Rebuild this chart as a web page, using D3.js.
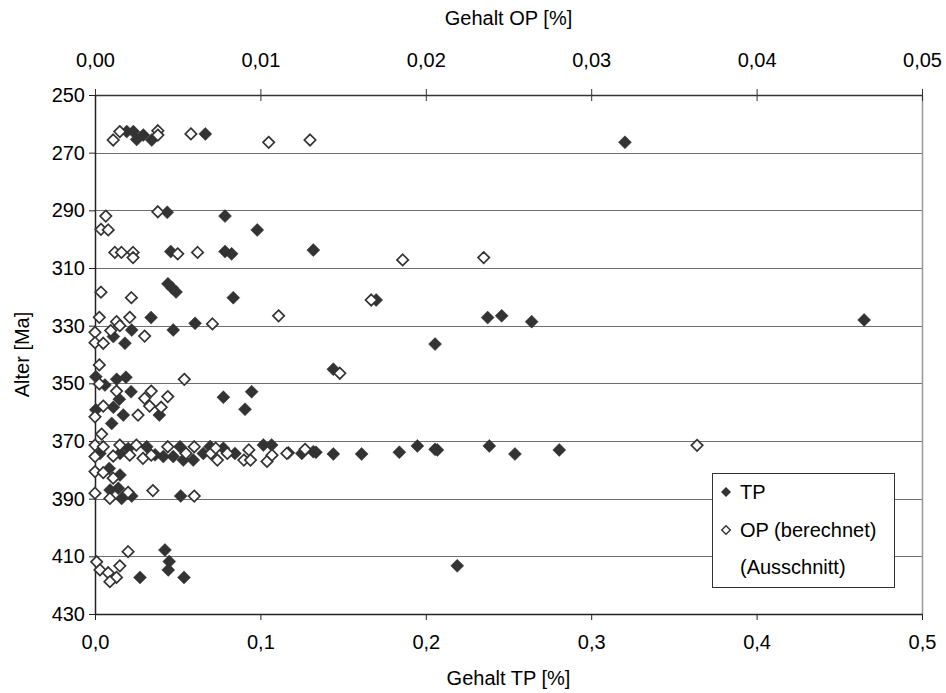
<!DOCTYPE html>
<html>
<head>
<meta charset="utf-8">
<script src="https://cdn.jsdelivr.net/npm/d3@7"></script>
<style>
  body { margin: 0; background: #fff; }
  text { font-family: "Liberation Sans", Arial, sans-serif; fill: #000; }
</style>
</head>
<body>
<div id="chart"></div>
<script>
'use strict';

// TP values [%] and ages [Ma]
var tpValues = [
  0.0192, 0.0232, 0.0252, 0.0292, 0.0343, 0.0667, 0.3204,
  0.0437, 0.0786, 0.0981,
  0.0458, 0.0786, 0.0826, 0.132,
  0.0441, 0.0466, 0.0490, 0.0836, 0.170, 0.0339, 0.0222, 0.0473, 0.0605, 0.0111, 0.0181,
  0.2374, 0.2459, 0.264, 0.2056, 0.465,
  0.1441, 0.0005, 0.006, 0.0131, 0.0187, 0.0218, 0.0147, 0.0111, 0.0005, 0.0171, 0.0389, 0.0101,
  0.0776, 0.0947, 0.0907,
  0.003, 0.0151, 0.0313, 0.0413, 0.0473, 0.0514, 0.0534, 0.0594, 0.0655, 0.0776, 0.0846,
  0.1018, 0.1068, 0.1169, 0.125, 0.132, 0.1336, 0.1441, 0.1612, 0.184, 0.1949, 0.2056,
  0.207, 0.2384, 0.2539, 0.2807, 0.0201, 0.0363, 0.0696,
  0.0086, 0.0151, 0.0091, 0.0141, 0.0161, 0.0222, 0.0518,
  0.0423, 0.0449, 0.0443, 0.0272, 0.0538, 0.219
];
var tpAges = [
  262.7, 262.7, 265.4, 263.9, 265.6, 263.5, 266.4,
  290.7, 292.0, 296.8,
  304.3, 304.3, 305.1, 303.8,
  315.5, 316.9, 318.3, 320.3, 321.1, 327.2, 331.5, 331.5, 329.2, 333.8, 336.1,
  327.2, 326.6, 328.6, 336.4, 328.0,
  345.1, 347.7, 350.6, 348.6, 347.9, 352.9, 355.5, 358.3, 359.2, 361.0, 361.0, 363.9,
  354.8, 352.9, 359.0,
  374.3, 374.3, 372.0, 375.4, 375.4, 372.0, 376.6, 376.6, 374.3, 372.5, 374.3,
  371.4, 371.4, 374.1, 374.3, 373.7, 373.9, 374.5, 374.5, 373.9, 371.7, 372.9,
  373.1, 371.7, 374.5, 373.1, 372.6, 374.8, 371.9,
  379.5, 381.8, 387.0, 386.4, 389.9, 389.1, 389.1,
  407.8, 411.8, 414.7, 417.3, 417.3, 413.3
];

// OP values [%] (computed, upper axis) and ages [Ma]
var opValues = [
  0.0011, 0.0015, 0.0038, 0.0038, 0.0058, 0.0105, 0.0130,
  0.00065, 0.00036, 0.0008, 0.0038,
  0.0012, 0.0016, 0.0023, 0.0023, 0.005, 0.0062, 0.0186, 0.0235,
  0.00036, 0.0022, 0.0167, 0.0111, 0.00026, 0.0013, 0.0021, 0.0015, 0.0071, 0.0, 0.00095,
  0.003, 0.0, 0.0005,
  0.0148, 0.00026, 0.00026, 0.0054, 0.0013, 0.0034, 0.003, 0.0044, 0.0005, 0.0033, 0.004,
  0.0, 0.0026, 0.0004,
  0.0, 0.0, 0.0005, 0.0011, 0.0015, 0.0021, 0.0025, 0.0029, 0.0034, 0.0044, 0.0055, 0.006,
  0.007, 0.0073, 0.0074, 0.008, 0.009, 0.0093, 0.0094, 0.0104, 0.0107, 0.0116, 0.0127, 0.0364,
  0.0, 0.0005, 0.0011, 0.0, 0.0009, 0.002, 0.0035, 0.006,
  0.002, 0.0001, 0.0003, 0.0008, 0.0015, 0.0013, 0.0009
];
var opAges = [
  265.6, 262.7, 262.4, 263.9, 263.5, 266.4, 265.6,
  292.0, 296.6, 296.8, 290.5,
  304.6, 304.6, 304.6, 306.4, 305.1, 304.6, 307.2, 306.4,
  318.4, 320.3, 321.1, 326.6, 327.1, 328.6, 327.1, 330.0, 329.4, 332.3, 331.7,
  333.6, 335.9, 336.1,
  346.5, 343.6, 350.2, 348.6, 352.7, 352.7, 355.2, 354.6, 357.9, 357.9, 358.3,
  361.6, 361.0, 367.6,
  371.4, 375.4, 372.0, 375.2, 371.4, 374.9, 371.4, 376.0, 374.9, 372.0, 374.3, 372.0,
  374.3, 372.5, 376.6, 374.3, 376.6, 373.1, 376.6, 377.1, 374.9, 374.3, 372.9, 371.5,
  380.6, 381.0, 382.9, 388.1, 389.9, 387.8, 387.2, 389.1,
  408.4, 411.9, 414.7, 415.7, 413.3, 417.3, 418.8
];

var tpTicks = [0, 0.1, 0.2, 0.3, 0.4, 0.5];
var opTicks = [0, 0.01, 0.02, 0.03, 0.04, 0.05];
var ageTicks = [250, 270, 290, 310, 330, 350, 370, 390, 410, 430];
var legendLabels = ['TP', 'OP (berechnet)', '(Ausschnitt)'];

var W = 946, H = 693;
var margin = {top: 95, right: 24, bottom: 79, left: 95};
var pw = W - margin.left - margin.right;
var ph = H - margin.top - margin.bottom;
var fontSize = '20px';

var svg = d3.select('#chart').append('svg')
    .attr('width', W)
    .attr('height', H);

var g = svg.append('g')
    .attr('transform', 'translate(' + margin.left + ',' + margin.top + ')');

var xTP = d3.scaleLinear().domain([0, 0.5]).range([0, pw]);
var xOP = d3.scaleLinear().domain([0, 0.05]).range([0, pw]);
var y = d3.scaleLinear().domain([250, 430]).range([0, ph]);

var comma = function(digits) {
    return function(d) { return d3.format('.' + digits + 'f')(d).replace('.', ','); };
};

// grid lines
g.selectAll('line.grid')
    .data(ageTicks.slice(1, -1))
    .enter()
    .append('line')
    .attr('class', 'grid')
    .attr('x1', 0)
    .attr('x2', pw)
    .attr('y1', function(d) { return Math.round(y(d)) + 0.5; })
    .attr('y2', function(d) { return Math.round(y(d)) + 0.5; })
    .attr('stroke', '#6e6e6e')
    .attr('stroke-width', 1);

// right border of plot area
g.append('line')
    .attr('x1', pw + 0.5).attr('x2', pw + 0.5)
    .attr('y1', 0).attr('y2', ph)
    .attr('stroke', '#999')
    .attr('stroke-width', 1.5);

// axes
var bottomAxis = d3.axisBottom(xTP).tickValues(tpTicks).tickFormat(comma(1))
    .tickSizeInner(6).tickSizeOuter(0).tickPadding(15);
var topAxis = d3.axisTop(xOP).tickValues(opTicks).tickFormat(comma(2))
    .tickSizeInner(6).tickSizeOuter(0).tickPadding(22);
var leftAxis = d3.axisLeft(y).tickValues(ageTicks).tickFormat(d3.format('d'))
    .tickSizeInner(6).tickSizeOuter(0).tickPadding(4);

function styleAxis(sel, color) {
    sel.attr('font-size', null).attr('font-family', null);
    sel.select('.domain').attr('stroke', color).attr('stroke-width', 1.5);
    sel.selectAll('.tick line').attr('stroke', color);
    sel.selectAll('.tick text')
        .style('font-family', '"Liberation Sans", Arial, sans-serif')
        .style('font-size', fontSize)
        .attr('fill', '#000');
}

g.append('g').attr('transform', 'translate(0,' + ph + ')').call(bottomAxis).call(styleAxis, '#222');
var topG = g.append('g').call(topAxis).call(styleAxis, '#333');
// top ticks cross the axis line
topG.selectAll('.tick line').attr('y1', 6).attr('y2', -6);
g.append('g').call(leftAxis).call(styleAxis, '#222');

// axis titles
svg.append('text')
    .attr('x', margin.left + pw / 2)
    .attr('y', 685)
    .attr('text-anchor', 'middle')
    .style('font-size', fontSize)
    .text('Gehalt TP [%]');
svg.append('text')
    .attr('x', margin.left + pw / 2)
    .attr('y', 25)
    .attr('text-anchor', 'middle')
    .style('font-size', fontSize)
    .text('Gehalt OP [%]');
svg.append('text')
    .attr('transform', 'translate(29,' + (margin.top + ph / 2) + ') rotate(-90)')
    .attr('text-anchor', 'middle')
    .style('font-size', fontSize)
    .text('Alter [Ma]');

function diamond(r) {
    return 'M0,' + (-r) + 'L' + r + ',0L0,' + r + 'L' + (-r) + ',0Z';
}

var tpData = tpValues.map(function(v, i) { return {x: v, age: tpAges[i]}; });
var opData = opValues.map(function(v, i) { return {x: v, age: opAges[i]}; });

g.append('g').selectAll('path')
    .data(tpData)
    .enter()
    .append('path')
    .attr('d', diamond(6.5))
    .attr('transform', function(d) { return 'translate(' + xTP(d.x) + ',' + y(d.age) + ')'; })
    .attr('fill', '#333')
    .attr('stroke', '#333')
    .attr('stroke-width', 0.5);

g.append('g').selectAll('path')
    .data(opData)
    .enter()
    .append('path')
    .attr('d', diamond(5.7))
    .attr('transform', function(d) { return 'translate(' + xOP(d.x) + ',' + y(d.age) + ')'; })
    .attr('fill', '#fff')
    .attr('stroke', '#333')
    .attr('stroke-width', 1.7);

// legend
var lg = svg.append('g').attr('transform', 'translate(712,473)');
lg.append('rect')
    .attr('x', 0.5).attr('y', 0.5)
    .attr('width', 182).attr('height', 114)
    .attr('fill', '#fff')
    .attr('stroke', '#333')
    .attr('stroke-width', 1);

var rowY = [19, 57, 94];
lg.selectAll('text')
    .data(legendLabels)
    .enter()
    .append('text')
    .attr('x', 28)
    .attr('y', function(d, i) { return rowY[i] + 7; })
    .style('font-size', fontSize)
    .text(function(d) { return d; });

lg.append('path')
    .attr('d', diamond(5))
    .attr('transform', 'translate(14,' + rowY[0] + ')')
    .attr('fill', '#333');
lg.append('path')
    .attr('d', diamond(4.3))
    .attr('transform', 'translate(14,' + rowY[1] + ')')
    .attr('fill', '#fff')
    .attr('stroke', '#333')
    .attr('stroke-width', 1.4);
</script>
</body>
</html>
